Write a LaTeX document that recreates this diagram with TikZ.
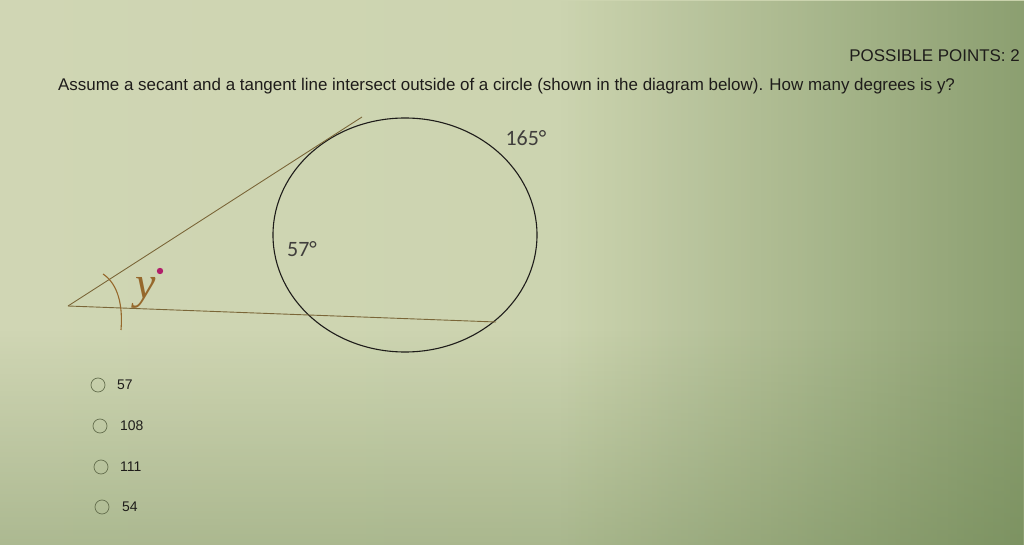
\documentclass[tikz,border=0pt]{standalone}
\usepackage{fontspec}
\setmainfont{Liberation Sans}
\newfontfamily\calib{Carlito}
\newfontfamily\handfont{Liberation Serif}
\usetikzlibrary{shapes.geometric,fadings}

\definecolor{bgL}{HTML}{D0D6B4}
\definecolor{bgM}{HTML}{E5EAC7}
\definecolor{bgR}{HTML}{C9D2AC}
\definecolor{bgdark}{HTML}{5A7640}
\definecolor{ink}{HTML}{1E1C1A}
\definecolor{penline}{HTML}{7A6638}
\definecolor{handpen}{HTML}{96682C}
\definecolor{dotmag}{HTML}{B01E6A}
\definecolor{radio}{HTML}{66704F}

\begin{document}
\begin{tikzpicture}[x=1bp,y=-1bp,
    qtext/.style={font=\fontsize{17}{19}\selectfont,text=ink,inner sep=0pt},
    arclabel/.style={font=\calib\fontsize{22}{24}\selectfont,text=ink!85,inner sep=0pt},
    choice/.style={circle,draw=radio,line width=0.7bp,minimum size=14bp,inner sep=0pt},
    choicetext/.style={font=\fontsize{14}{16}\selectfont,text=ink,inner sep=0pt},
    ray/.style={draw=penline,line width=0.9bp},
    circ/.style={ellipse,draw=ink,line width=1.1bp,minimum width=264bp,minimum height=234bp,inner sep=0pt}
    ]

% Background (photo of a screen)
\shade[left color=bgL,middle color=bgM,right color=bgR] (0,0) rectangle (1024,545);
\fill[bgdark,path fading=west,fill opacity=0.55] (560,0) rectangle (1024,545);
\fill[bgdark,path fading=north,fill opacity=0.3] (0,330) rectangle (1024,545);
\useasboundingbox (0,0) rectangle (1024,545);

% Header
\node[qtext,anchor=base east] (pts) at (1020,62) {POSSIBLE POINTS: 2};
\node[qtext,anchor=base west] (q) at (58,91) {Assume a secant and a tangent line intersect outside of a circle (shown in the diagram below). How many degrees is y?};

% Circle and lines
\node[circ] (c) at (405,235) {};
\coordinate (V) at (68,306);
\coordinate (T) at (362,117);
\coordinate (S) at (496,322);
\draw[ray] (V)--(T);
\draw[ray] (V)--(S);

\node[arclabel] (big) at (526,138) {165°};
\node[arclabel] (small) at (302,249) {57°};

% Handwritten angle mark
\draw[handpen,line width=1.1bp] (103,274) .. controls (118,284) and (123,305) .. (121,330);
\node[text=handpen,font=\handfont\itshape\fontsize{46}{46}\selectfont,inner sep=0pt,anchor=base] (y) at (146,299) {y};
\fill[dotmag] (160,271) circle (3.2);

% Answer choices
\node[choice] (r1) at (98,385) {};
\node[choice] (r2) at (100,426) {};
\node[choice] (r3) at (101,467) {};
\node[choice] (r4) at (102,507) {};
\node[choicetext,anchor=west] (a1) at (117,385) {57};
\node[choicetext,anchor=west] (a2) at (120,426) {108};
\node[choicetext,anchor=west] (a3) at (120,467) {111};
\node[choicetext,anchor=west] (a4) at (122,507) {54};

\end{tikzpicture}
\end{document}
